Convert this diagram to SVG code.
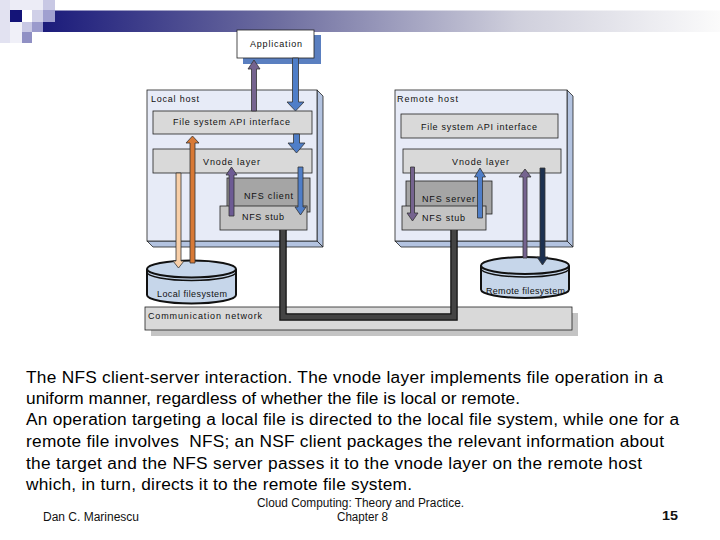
<svg xmlns="http://www.w3.org/2000/svg" width="720" height="540" viewBox="0 0 720 540">
<defs>
<linearGradient id="bar" x1="0" y1="0" x2="1" y2="0">
<stop offset="0" stop-color="#1b1b7b"/>
<stop offset="0.35" stop-color="#6e6ea0"/>
<stop offset="0.7" stop-color="#cfcfdc"/>
<stop offset="1" stop-color="#fbfbfb"/>
</linearGradient>
<style>
.lbl{font-family:"Liberation Sans",Arial,sans-serif;font-size:9px;fill:#111}
.cap{font-family:"Liberation Sans",Arial,sans-serif;font-size:17.3px;fill:#000}
.ft{font-family:"Liberation Sans",Arial,sans-serif;font-size:12px;fill:#111}
.face{fill:#e7ebf7;stroke:#222;stroke-width:0.8}
.ext{fill:#b3c3e0;stroke:#222;stroke-width:0.8}
.lt{fill:#d9d9d9;stroke:#222;stroke-width:0.8}
.dk{fill:#a5a5a5;stroke:#222;stroke-width:0.8}
.md{fill:#c4c4c4;stroke:#222;stroke-width:0.8}
.cyl{fill:#c6d6ea;stroke:#111;stroke-width:2}
.arr{stroke:#333;stroke-width:0.8}
</style>
</defs>

<!-- header -->
<g id="header">
<rect x="43" y="10.5" width="677" height="21.5" fill="url(#bar)"/>
<rect x="0" y="0" width="10" height="43" fill="#e2e2f1"/>
<rect x="10" y="0" width="33" height="10" fill="#ececf6"/>
<rect x="10" y="10" width="12" height="12" fill="#141478"/>
<rect x="22" y="10" width="10" height="12" fill="#ffffff"/>
<rect x="32" y="10" width="11" height="12" fill="#d0d0e8"/>
<rect x="43" y="0" width="12" height="10" fill="#c8c8e4"/>
<rect x="43" y="10" width="12" height="12" fill="#a0a0d0"/>
<rect x="10" y="22" width="12" height="21" fill="#f0f0f8"/>
<rect x="22" y="22" width="10" height="10" fill="#c8c8e4"/>
<rect x="32" y="22" width="11" height="10" fill="#9a9acc"/>
<rect x="22" y="32" width="10" height="11" fill="#9090c4"/>
</g>

<!-- application -->
<g id="application">
<rect x="243" y="35" width="78" height="29" fill="#5a7fc0"/>
<rect x="237" y="30" width="77" height="28" fill="#ffffff" stroke="#222" stroke-width="0.8"/>
<text class="lbl" x="250" y="46.5" textLength="52" lengthAdjust="spacing">Application</text>
</g>

<!-- local host -->
<g id="local-host">
<polygon class="ext" points="317,90 323,96 323,247 317,241"/>
<polygon class="ext" points="147,241 317,241 323,247 153,247"/>
<rect class="face" x="147" y="90" width="170" height="151"/>
<text class="lbl" x="151" y="101.5" textLength="48" lengthAdjust="spacing">Local host</text>
</g>
<g id="local-api">
<rect class="lt" x="153" y="111" width="159" height="23"/>
<text class="lbl" x="173" y="125" textLength="117" lengthAdjust="spacing">File system API interface</text>
</g>
<g id="local-vnode">
<rect class="lt" x="153" y="149" width="159" height="24"/>
<text class="lbl" x="203" y="165" textLength="57" lengthAdjust="spacing">Vnode layer</text>
</g>
<g id="nfs-client">
<rect class="dk" x="227" y="178" width="83" height="34"/>
<text class="lbl" x="244" y="198.5" textLength="49" lengthAdjust="spacing">NFS client</text>
</g>
<g id="local-nfs-stub">
<rect class="md" x="220" y="206" width="87" height="24"/>
<text class="lbl" x="242" y="220" textLength="42" lengthAdjust="spacing">NFS stub</text>
</g>

<!-- remote host -->
<g id="remote-host">
<polygon class="ext" points="567,90 573,96 573,247 567,241"/>
<polygon class="ext" points="395,241 567,241 573,247 401,247"/>
<rect class="face" x="395" y="90" width="172" height="151"/>
<text class="lbl" x="397" y="101.5" textLength="61" lengthAdjust="spacing">Remote host</text>
</g>
<g id="remote-api">
<rect class="lt" x="401" y="114" width="157" height="24"/>
<text class="lbl" x="421" y="130" textLength="116" lengthAdjust="spacing">File system API interface</text>
</g>
<g id="remote-vnode">
<rect class="lt" x="403" y="149" width="158" height="24"/>
<text class="lbl" x="452" y="165" textLength="57" lengthAdjust="spacing">Vnode layer</text>
</g>
<g id="nfs-server">
<rect class="dk" x="406" y="181" width="86" height="33"/>
<text class="lbl" x="422" y="201.5" textLength="53" lengthAdjust="spacing">NFS server</text>
</g>
<g id="remote-nfs-stub">
<rect class="md" x="402" y="206" width="84" height="24"/>
<text class="lbl" x="422" y="220.5" textLength="43" lengthAdjust="spacing">NFS stub</text>
</g>

<!-- communication network -->
<g id="network">
<rect x="151" y="313" width="427" height="23" fill="#c4c4c4"/>
<rect x="145" y="307" width="427" height="23" fill="#d9d9d9" stroke="#222" stroke-width="0.8"/>
<text class="lbl" x="148" y="319.3" textLength="114" lengthAdjust="spacing">Communication network</text>
</g>

<!-- local file system -->
<g id="local-fs">
<path class="cyl" d="M147,269 L147,295 A44.5,8.5 0 0 0 236,295 L236,269"/>
<ellipse class="cyl" cx="191.5" cy="269" rx="44.5" ry="8.5"/>
<path d="M147,272 A44.5,8.5 0 0 0 236,272" fill="none" stroke="#111" stroke-width="1.5"/>
<text class="lbl" x="157" y="296.5" textLength="70" lengthAdjust="spacing">Local filesystem</text>
</g>

<!-- remote file system -->
<g id="remote-fs">
<path class="cyl" d="M481,265.5 L481,289.5 A44,8.5 0 0 0 569,289.5 L569,265.5"/>
<ellipse class="cyl" cx="525" cy="265.5" rx="44" ry="8.5"/>
<path d="M481,268.5 A44,8.5 0 0 0 569,268.5" fill="none" stroke="#111" stroke-width="1.5"/>
<text class="lbl" x="486" y="294" textLength="79" lengthAdjust="spacing">Remote filesystem</text>
</g>

<!-- connectors -->
<g id="connectors">
<!-- network cable -->
<path d="M283,230 L283,317 L454,317 L454,230" fill="none" stroke="#111" stroke-width="7.5"/>
<path d="M283,230 L283,317 L454,317 L454,230" fill="none" stroke="#444" stroke-width="5"/>
<!-- application up (purple) -->
<polygon class="arr" fill="#75638f" points="251.5,111 251.5,69 248,69 254,60 260,69 256.5,69 256.5,111"/>
<!-- application down (blue) -->
<polygon class="arr" fill="#4f7ec8" points="292.5,58 292.5,102 287,102 295.5,111 304,102 298.5,102 298.5,58"/>
<!-- local api -> vnode -->
<polygon class="arr" fill="#4f7ec8" points="293.5,134 293.5,143 288,143 296.5,153 305,143 299.5,143 299.5,134"/>
<!-- local vnode -> stub -->
<polygon class="arr" fill="#4f7ec8" points="298,167 298,207 295,207 300.5,215 306,207 303,207 303,167"/>
<!-- local stub -> vnode (purple up) -->
<polygon class="arr" fill="#6d5b94" points="229,216 229,175 226,175 231.5,167 237,175 234,175 234,216"/>
<!-- orange up -->
<polygon class="arr" fill="#d87935" points="190,263 190,143 186,143 192.5,136 199,143 195,143 195,263"/>
<!-- peach down -->
<polygon class="arr" fill="#f8cfa8" points="176,173 176,261 173,261 178.5,268 184,261 181,261 181,173"/>
<!-- remote vnode -> stub (purple down) -->
<polygon class="arr" fill="#75638f" points="410.5,167 410.5,213 407,213 412.5,221 418,213 414.5,213 414.5,167"/>
<!-- remote server -> vnode (blue up) -->
<polygon class="arr" fill="#4f7ec8" points="477.5,218 477.5,177 474.5,177 480,168 485.5,177 482.5,177 482.5,218"/>
<!-- remote fs -> vnode (purple up) -->
<polygon class="arr" fill="#75638f" points="523,258 523,177 519,177 525,169 531,177 527,177 527,258"/>
<!-- remote vnode -> fs (navy down) -->
<polygon class="arr" fill="#1d3150" points="540,168 540,257 537,257 542.5,265 548,257 545,257 545,168"/>
</g>

<!-- caption -->
<g id="caption">
<text class="cap" x="26" y="383" textLength="637" lengthAdjust="spacing">The NFS client-server interaction. The vnode layer implements file operation in a</text>
<text class="cap" x="26" y="404" textLength="494" lengthAdjust="spacing">uniform manner, regardless of whether the file is local or remote.</text>
<text class="cap" x="26" y="425" textLength="653" lengthAdjust="spacing">An operation targeting a local file is directed to the local file system, while one for a</text>
<text class="cap" x="26" y="447" textLength="638" lengthAdjust="spacing" xml:space="preserve">remote file involves  NFS; an NSF client packages the relevant information about</text>
<text class="cap" x="26" y="469" textLength="616" lengthAdjust="spacing">the target and the NFS server passes it to the vnode layer on the remote host</text>
<text class="cap" x="26" y="490" textLength="386" lengthAdjust="spacing">which, in turn, directs it to the remote file system.</text>
</g>

<!-- footer -->
<g id="footer">
<text class="ft" x="43" y="521" textLength="96" lengthAdjust="spacingAndGlyphs">Dan C. Marinescu</text>
<text class="ft" x="257" y="507" textLength="207" lengthAdjust="spacingAndGlyphs">Cloud Computing: Theory and Practice.</text>
<text class="ft" x="337" y="521" textLength="51" lengthAdjust="spacingAndGlyphs">Chapter 8</text>
<text class="ft" x="662" y="520" font-weight="bold" font-size="13" textLength="16" lengthAdjust="spacingAndGlyphs">15</text>
</g>
</svg>
